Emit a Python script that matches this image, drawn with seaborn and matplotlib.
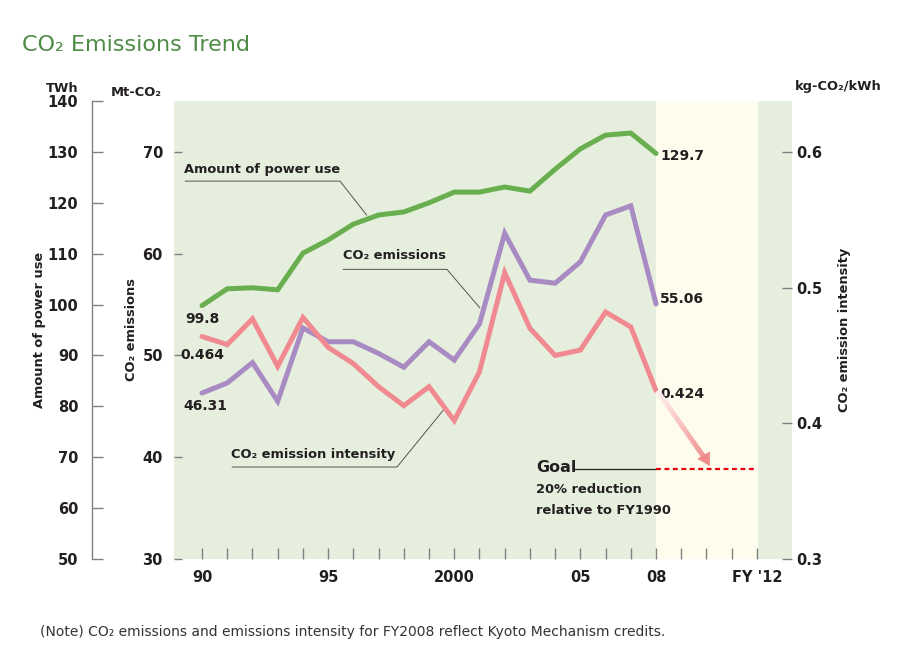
import matplotlib
matplotlib.use("Agg")
import matplotlib.pyplot as plt
from matplotlib.collections import LineCollection
import matplotlib.colors as mcolors
import seaborn as sns
import numpy as np
import pandas as pd

# Dados
years = list(range(1990, 2009))
power_use = [99.8, 103.1, 103.3, 102.9, 110.1, 112.7, 115.8, 117.6, 118.2, 120.0,
             122.1, 122.1, 123.1, 122.3, 126.6, 130.6, 133.3, 133.7, 129.7]
co2_emissions = [46.31, 47.3, 49.3, 45.5, 52.7, 51.35, 51.35, 50.2, 48.85, 51.35,
                 49.55, 53.1, 62.0, 57.4, 57.1, 59.2, 63.8, 64.7, 55.06]
intensity = [0.464, 0.458, 0.477, 0.442, 0.478, 0.456, 0.444, 0.427, 0.413, 0.427,
             0.402, 0.438, 0.511, 0.470, 0.450, 0.454, 0.482, 0.471, 0.424]
goal_years = [2008, 2012]
goal_intensity = 0.366

xtick_years = list(range(1990, 2013))
xtick_text = {1990: '90', 1995: '95', 2000: '2000', 2005: '05', 2008: '08', 2012: "FY '12"}
twh_ticks = list(range(50, 141, 10))
mt_ticks = [30, 40, 50, 60, 70]
kg_ticks = [0.3, 0.4, 0.5, 0.6]

df = pd.DataFrame({'year': years, 'power': power_use, 'co2': co2_emissions, 'intensity': intensity})

sns.set_theme(style="white")
plt.rcParams['font.family'] = ['DejaVu Sans']

TXT = '#231f20'
GRAY = '#808080'
GREEN = '#6aaf4f'
PURPLE = '#a98bc4'
PINK = '#f08a90'
LBL = 9.4  # tamanho dos rótulos em negrito

fig = plt.figure(figsize=(9.04, 6.53), dpi=100)
ax = fig.add_axes([0.1925, 0.1439, 0.6836, 0.7014])
ax.set_facecolor('#e6eede')
ax.axvspan(2008, 2012, color='#fefcec', zorder=0)
ax.set_xlim(1988.89, 2013.39)
ax.set_ylim(30, 75)
for s in ax.spines.values():
    s.set_visible(False)

# eixo TWh (mais à esquerda)
ax_t = ax.twinx()
ax_t.set_ylim(50, 140)
ax_t.spines['right'].set_visible(False)
ax_t.spines['top'].set_visible(False)
ax_t.spines['bottom'].set_visible(False)
ax_t.spines['left'].set_visible(True)
ax_t.spines['left'].set_position(('axes', -0.1327))
ax_t.spines['left'].set_color(GRAY)
ax_t.spines['left'].set_linewidth(1)
ax_t.yaxis.set_ticks_position('left')
ax_t.yaxis.set_label_position('left')
ax_t.set_yticks(twh_ticks)
ax_t.tick_params(axis='y', direction='in', length=8, width=1, color=GRAY, pad=10,
                 labelsize=10.5, labelcolor=TXT)
for lb in ax_t.get_yticklabels():
    lb.set_fontweight('bold')

# eixo intensidade (direita)
ax_r = ax.twinx()
ax_r.set_ylim(0.3, 0.6375)
for s in ax_r.spines.values():
    s.set_visible(False)
ax_r.set_yticks(kg_ticks)
ax_r.set_yticklabels([f'{v:.1f}' for v in kg_ticks])
ax_r.tick_params(axis='y', direction='in', length=7, width=1, color=GRAY, pad=3,
                 labelsize=10.5, labelcolor=TXT)
for lb in ax_r.get_yticklabels():
    lb.set_fontweight('bold')

# eixo Mt-CO2 e eixo x
ax.set_yticks(mt_ticks)
ax.tick_params(axis='y', direction='in', length=6, width=1, color=GRAY, pad=8,
               labelsize=10.5, labelcolor=TXT, left=True)
ax.set_xticks(xtick_years)
ax.set_xticklabels([xtick_text.get(y, '') for y in xtick_years])
ax.tick_params(axis='x', direction='in', length=8, width=1, color=GRAY, pad=8,
               labelsize=10.5, labelcolor=TXT, bottom=True)
for lb in ax.get_yticklabels() + ax.get_xticklabels():
    lb.set_fontweight('bold')

# linhas
sns.lineplot(data=df, x='year', y='power', ax=ax_t, color=GREEN, linewidth=3.6)
sns.lineplot(data=df, x='year', y='co2', ax=ax, color=PURPLE, linewidth=3.6, zorder=3)
sns.lineplot(data=df, x='year', y='intensity', ax=ax_r, color=PINK, linewidth=3.6)
for a in (ax, ax_t, ax_r):
    a.set_xlabel('')
    a.set_ylabel('')
    for ln in a.get_lines():
        ln.set_solid_joinstyle('miter')

# meta
ax_r.plot(goal_years, [goal_intensity] * 2, color='#e60012', linestyle=(0, (2.2, 1.6)), linewidth=1.6)
ax.plot([2004.75, 2008], [38.84, 38.84], color=TXT, linewidth=0.9)
ax.text(2003.24, 39.0, 'Goal', fontsize=11.5, fontweight='bold', color=TXT, ha='left', va='center')
ax.text(2003.24, 36.8, '20% reduction', fontsize=LBL, fontweight='bold', color=TXT, ha='left', va='center')
ax.text(2003.24, 34.8, 'relative to FY1990', fontsize=LBL, fontweight='bold', color=TXT, ha='left', va='center')

# seta com degradê
x0, y0 = 2008.05, intensity[-1]
x1, y1 = 2010.0, 0.3725
n = 30
xs = np.linspace(x0, x1, n + 1)
ys = np.linspace(y0, y1, n + 1)
segs = [[(xs[i], ys[i]), (xs[i + 1], ys[i + 1])] for i in range(n)]
cmap = mcolors.LinearSegmentedColormap.from_list('fade', ['#fdf0ee', '#f08a8a'])
lc = LineCollection(segs, colors=[cmap(i / (n - 1)) for i in range(n)], linewidths=3.6)
ax_r.add_collection(lc)
ax_r.annotate('', xy=(2010.14, 0.3685), xytext=(x1 - 0.05, y1 + 0.002),
              arrowprops=dict(arrowstyle='-|>,head_length=0.7,head_width=0.4',
                              color='#f08a8a', lw=0.5, shrinkA=0, shrinkB=0))

# rótulos das séries com linhas de chamada
ax.text(1989.29, 68.3, 'Amount of power use', fontsize=LBL, fontweight='bold', color=TXT, ha='left', va='center')
ax.plot([1989.33, 1995.47, 1996.53], [67.13, 67.13, 63.79], color='#555555', linewidth=0.7)
ax.text(1995.59, 59.8, 'CO₂ emissions', fontsize=LBL, fontweight='bold', color=TXT, ha='left', va='center')
ax.plot([1995.59, 1999.71, 2001.02], [58.46, 58.46, 54.66], color='#555555', linewidth=0.7)
ax.text(1991.15, 40.25, 'CO₂ emission intensity', fontsize=LBL, fontweight='bold', color=TXT, ha='left', va='center')
ax.plot([1991.19, 1997.73, 1999.6], [39.04, 39.04, 44.73], color='#555555', linewidth=0.7)

# valores
for xv, yv, s in [(1989.33, 53.58, '99.8'), (1989.13, 50.04, '0.464'), (1989.25, 45.03, '46.31'),
                  (2008.16, 69.59, '129.7'), (2008.16, 55.54, '55.06'), (2008.16, 46.2, '0.424')]:
    ax.text(xv, yv, s, fontsize=10, fontweight='bold', color=TXT, ha='left', va='center')

# títulos e unidades
fig.text(0.0243, 0.931, 'CO₂ Emissions Trend', fontsize=16, color='#4e8b45', ha='left', va='center')
fig.text(0.0863, 0.8652, 'TWh', fontsize=LBL, fontweight='bold', color=TXT, ha='right', va='center')
fig.text(0.1228, 0.8576, 'Mt-CO₂', fontsize=LBL, fontweight='bold', color=TXT, ha='left', va='center')
fig.text(0.8794, 0.8683, 'kg-CO₂/kWh', fontsize=LBL, fontweight='bold', color=TXT, ha='left', va='center')
fig.text(0.0442, 0.4946, 'Amount of power use', fontsize=LBL, fontweight='bold', color=TXT,
         rotation=90, ha='center', va='center')
fig.text(0.145, 0.4946, 'CO₂ emissions', fontsize=LBL, fontweight='bold', color=TXT,
         rotation=90, ha='center', va='center')
fig.text(0.9347, 0.4946, 'CO₂ emission intensity', fontsize=LBL, fontweight='bold', color=TXT,
         rotation=90, ha='center', va='center')
fig.text(0.0442, 0.0322, '(Note) CO₂ emissions and emissions intensity for FY2008 reflect Kyoto Mechanism credits.',
         fontsize=10, color='#333333', ha='left', va='center')

fig.savefig('out.png', dpi=100)
